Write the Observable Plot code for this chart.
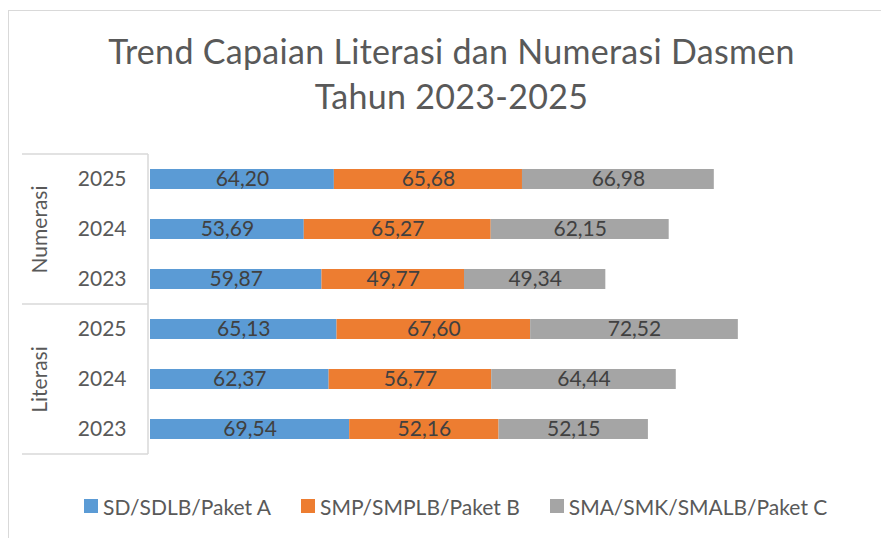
<!DOCTYPE html>
<html>
<head>
<meta charset="utf-8">
<script src="https://cdn.jsdelivr.net/npm/d3@7"></script>
<script src="https://cdn.jsdelivr.net/npm/@observablehq/plot@0.6"></script>
<style>
  html, body { margin: 0; padding: 0; background: #fff; }
  body { width: 881px; height: 538px; position: relative; overflow: hidden; font-family: Lato, "Open Sans", sans-serif; }
  #frame { position: absolute; left: 8px; top: 10px; width: 873px; height: 528px; border-top: 1px solid #d9d9d9; border-left: 1px solid #d9d9d9; box-sizing: border-box; }
  #title { position: absolute; left: 0; width: 903px; top: 28px; text-align: center; font-size: 34px; letter-spacing: 0.3px; line-height: 45px; color: #595959; font-weight: 400; }
  #chart { position: absolute; left: 0; top: 130px; }
  #legend { position: absolute; left: 84px; top: 492px; height: 28px; display: flex; align-items: center; font-size: 21px; color: #595959; }
  .item { display: flex; align-items: center; margin-right: 30px; }
  .sw { width: 14px; height: 14px; margin-right: 5px; }
</style>
</head>
<body>
<div id="frame"></div>
<div id="title">Trend Capaian Literasi dan Numerasi Dasmen<br>Tahun 2023-2025</div>
<div id="chart"></div>
<div id="legend"></div>
<script>
const groups = ["Numerasi", "Literasi"];
const years = ["2025", "2024", "2023"];
const series = ["SD/SDLB/Paket A", "SMP/SMPLB/Paket B", "SMA/SMK/SMALB/Paket C"];
const colors = ["#5B9BD5", "#ED7D31", "#A5A5A5"];
// values per group, rows in order of years (2025, 2024, 2023), columns = series
const numerasi = [
  [64.20, 65.68, 66.98],
  [53.69, 65.27, 62.15],
  [59.87, 49.77, 49.34]
];
const literasi = [
  [65.13, 67.60, 72.52],
  [62.37, 56.77, 64.44],
  [69.54, 52.16, 52.15]
];

const tables = {Numerasi: numerasi, Literasi: literasi};
const rows = [];
const keys = [];
for (const g of groups) {
  years.forEach((yr, i) => {
    const key = g + "|" + yr;
    keys.push(key);
    series.forEach((s, j) => rows.push({key, group: g, year: yr, series: s, value: tables[g][i][j]}));
  });
}
const fmt = v => d3.format(".2f")(v).replace(".", ",");

const chart = Plot.plot({
  width: 881,
  height: 340,
  marginLeft: 150,
  marginRight: 15,
  marginTop: 24,
  marginBottom: 16,
  x: {domain: [0, 250], axis: null},
  y: {domain: keys, paddingInner: 0.6, paddingOuter: 0.3, axis: null},
  color: {domain: series, range: colors},
  style: {fontFamily: "Lato, 'Open Sans', sans-serif", background: "transparent"},
  marks: [
    Plot.barX(rows, Plot.stackX({y: "key", x: "value", fill: "series", order: series})),
    Plot.text(rows, Plot.stackX({y: "key", x: "value", z: "series", order: series, text: d => fmt(d.value), fill: "#404040", fontSize: 21})),
    Plot.axisY({domain: keys, label: null, tickSize: 0, tickPadding: 24, tickFormat: k => k.split("|")[1], fontSize: 21, color: "#595959"}),
    Plot.text(groups, {y: g => g + "|2024", text: d => d, frameAnchor: "left", textAnchor: "middle", dx: -110, rotate: -90, fontSize: 21, fill: "#595959"})
  ]
});

// axis table lines, positioned through the y scale
const ys = chart.scale("y");
const svg = d3.select(chart);
const yTop = ys.range[0], yBottom = ys.range[1];
const yMid = ys.apply(groups[1] + "|" + years[0]) - ys.step * ys.paddingOuter;
const lg = svg.append("g").attr("stroke", "#d9d9d9").attr("stroke-width", 1.5);
for (const yy of [yTop, yMid, yBottom]) lg.append("line").attr("x1", 22).attr("x2", 148).attr("y1", yy).attr("y2", yy);
lg.append("line").attr("x1", 148).attr("x2", 148).attr("y1", yTop).attr("y2", yBottom);

document.getElementById("chart").appendChild(chart);

const legend = document.getElementById("legend");
series.forEach((s, i) => {
  const it = document.createElement("div");
  it.className = "item";
  it.innerHTML = `<div class="sw" style="background:${colors[i]}"></div><span>${s}</span>`;
  legend.appendChild(it);
});
</script>
</body>
</html>
